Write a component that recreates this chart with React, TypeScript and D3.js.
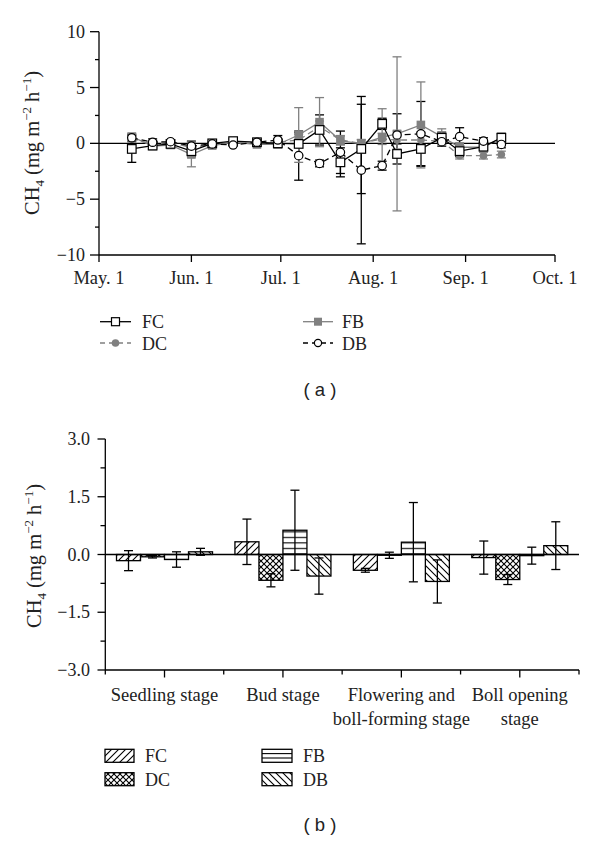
import React from 'react';
import * as d3 from 'd3';

// ---------- Panel (a) data ----------
const sampleDates = ['2012-05-12','2012-05-19','2012-05-25','2012-06-01','2012-06-08','2012-06-15','2012-06-23','2012-06-30','2012-07-07','2012-07-14','2012-07-21','2012-07-28','2012-08-04','2012-08-09','2012-08-17','2012-08-24','2012-08-30','2012-09-07','2012-09-13'];
const fcMean = [-0.5,-0.2,-0.05,-0.7,0.0,0.2,0.1,0.0,-0.05,1.2,-1.7,-0.5,1.75,-0.95,-0.5,0.5,-0.7,-0.3,0.5];
const fcErr  = [1.2,0.2,0.1,0.5,0.2,0.2,0.1,0.3,1.0,1.35,1.3,4.0,0.5,0.9,1.5,0.5,0.5,0.3,0.4];
const dcMean = [0.4,-0.1,0.1,-0.4,-0.1,0.0,0.0,0.1,0.3,1.5,0.3,0.0,0.4,0.3,0.3,0.2,-1.1,-1.1,-1.0];
const dcErr  = [0.3,0.2,0.1,0.5,0.2,0.1,0.1,0.2,0.5,0.5,0.4,0.3,0.5,0.8,0.6,0.3,0.3,0.3,0.3];
const fbMean = [0.6,-0.25,-0.15,-1.0,-0.2,0.1,-0.1,-0.1,0.75,1.9,0.25,-0.05,0.55,0.85,1.65,0.6,-0.35,-0.35,0.5];
const fbErr  = [0.3,0.2,0.1,1.1,0.2,0.2,0.1,0.3,2.45,2.2,0.4,0.4,2.55,6.9,3.85,0.7,0.4,0.3,0.3];
const dbMean = [0.5,0.1,0.15,-0.25,-0.05,-0.15,0.1,0.3,-1.1,-1.8,-0.8,-2.4,-2.0,0.75,0.85,0.15,0.6,0.2,-0.1];
const dbErr  = [0.3,0.3,0.1,0.45,0.1,0.1,0.2,0.4,2.2,0.3,1.9,6.6,0.4,1.9,2.9,0.4,0.8,0.3,0.3];
const monthLabels = ['May. 1','Jun. 1','Jul. 1','Aug. 1','Sep. 1','Oct. 1'];
const yTicksA = [-10,-7.5,-5,-2.5,0,2.5,5,7.5,10];

// ---------- Panel (b) data ----------
const stages = ['Seedling','Bud','Flowering','Boll'];
const stageLabels = [['Seedling stage'],['Bud stage'],['Flowering and','boll-forming stage'],['Boll opening','stage']];
const seriesNames = ['FC','DC','FB','DB'];
const fcBar = [-0.16,0.33,-0.41,-0.08];
const fcBarErr = [0.26,0.59,0.05,0.43];
const dcBar = [-0.06,-0.67,-0.02,-0.65];
const dcBarErr = [0.03,0.17,0.08,0.13];
const fbBar = [-0.13,0.63,0.32,-0.03];
const fbBarErr = [0.2,1.04,1.03,0.22];
const dbBar = [0.07,-0.56,-0.70,0.23];
const dbBarErr = [0.09,0.47,0.56,0.62];
const yTicksB = [-3,-2.25,-1.5,-0.75,0,0.75,1.5,2.25,3];
const yTickLabelsB = ['−3.0','','−1.5','','0.0','','1.5','','3.0'];

const SERIF = '"Liberation Serif", "Times New Roman", serif';
const SANS = '"Liberation Sans", Arial, sans-serif';
const GRAY = '#808080';

function fmtA(v: number) {
  if (v % 5 !== 0) return '';
  return v < 0 ? '−' + Math.abs(v) : String(v);
}

function YLabel({ cx, cy }: { cx: number; cy: number }) {
  return (
    <text transform={`translate(${cx},${cy}) rotate(-90)`} textAnchor="middle" fontFamily={SERIF} fontSize={20.5} fill="#222">
      CH<tspan dy={4.5} fontSize={13}>4</tspan>
      <tspan dy={-4.5}> (mg m</tspan>
      <tspan dy={-8} fontSize={13}>−2</tspan>
      <tspan dy={8}> h</tspan>
      <tspan dy={-8} fontSize={13}>−1</tspan>
      <tspan dy={8}>)</tspan>
    </text>
  );
}

export default function App() {
  const parse = d3.utcParse('%Y-%m-%d');
  const dts = sampleDates.map((s) => parse(s) as Date);
  const start = new Date(Date.UTC(2012, 4, 1));
  const end = new Date(Date.UTC(2012, 9, 1));
  const x = d3.scaleUtc().domain([start, end]).range([99, 555]);
  const y = d3.scaleLinear().domain([-10, 10]).range([255, 31.7]);
  const months = d3.utcMonth.range(start, new Date(Date.UTC(2012, 9, 2)));

  const line = (vals: number[]) =>
    d3.line<number>().x((_, i) => x(dts[i])).y((d) => y(d))(vals) || '';

  const errBars = (mean: number[], err: number[], color: string, key: string) =>
    mean.map((m, i) => {
      const cx = x(dts[i]);
      const y1 = y(m + err[i]);
      const y2 = y(m - err[i]);
      return (
        <g key={key + i} stroke={color} strokeWidth={1.3}>
          <line x1={cx} x2={cx} y1={y1} y2={y2} />
          <line x1={cx - 4.5} x2={cx + 4.5} y1={y1} y2={y1} />
          <line x1={cx - 4.5} x2={cx + 4.5} y1={y2} y2={y2} />
        </g>
      );
    });

  // Panel b scales
  const xb = d3.scaleBand<string>().domain(stages).range([105.3, 579]).padding(0);
  const inner = d3.scaleBand<string>().domain(seriesNames)
    .range([(xb.bandwidth() - 96) / 2, (xb.bandwidth() + 96) / 2]).padding(0);
  const yb = d3.scaleLinear().domain([-3, 3]).range([670, 439]);
  const barSeries = [
    { name: 'FC', vals: fcBar, err: fcBarErr, fill: 'url(#pFC)' },
    { name: 'DC', vals: dcBar, err: dcBarErr, fill: 'url(#pDC)' },
    { name: 'FB', vals: fbBar, err: fbBarErr, fill: 'url(#pFB)' },
    { name: 'DB', vals: dbBar, err: dbBarErr, fill: 'url(#pDB)' },
  ];
  const boundaries = [0, 1, 2, 3, 4].map((i) => 105.3 + i * xb.step());

  return (
    <svg width={600} height={842} style={{ position: 'absolute', left: 0, top: 0, background: '#fff' }}>
      <defs>
        <pattern id="pFC" patternUnits="userSpaceOnUse" width={7} height={7}>
          <rect width={7} height={7} fill="#fff" />
          <path d="M-1,8 L8,-1 M-1,1 L1,-1 M6,8 L8,6" stroke="#000" strokeWidth={1.1} />
        </pattern>
        <pattern id="pDC" patternUnits="userSpaceOnUse" width={6} height={6}>
          <rect width={6} height={6} fill="#fff" />
          <path d="M-1,7 L7,-1 M-1,-1 L7,7" stroke="#000" strokeWidth={1.1} />
        </pattern>
        <pattern id="pFB" patternUnits="userSpaceOnUse" width={6} height={5.5} y={554.5 % 5.5 - 1.2}>
          <rect width={6} height={5.5} fill="#fff" />
          <line x1={0} x2={6} y1={0.6} y2={0.6} stroke="#000" strokeWidth={1.1} />
        </pattern>
        <pattern id="pDB" patternUnits="userSpaceOnUse" width={7} height={7}>
          <rect width={7} height={7} fill="#fff" />
          <path d="M-1,-1 L8,8 M6,-1 L8,1 M-1,6 L1,8" stroke="#000" strokeWidth={1.1} />
        </pattern>
      </defs>

      {/* ================= Panel (a) ================= */}
      <g fontFamily={SERIF} fill="#222">
        <line x1={99} x2={555} y1={y(0)} y2={y(0)} stroke="#000" strokeWidth={1.3} />
        <line x1={99} x2={99} y1={y(10)} y2={y(-10)} stroke="#000" strokeWidth={1.3} />
        {yTicksA.map((t) => (
          <g key={'ya' + t}>
            <line x1={t % 5 === 0 ? 90 : 95} x2={99} y1={y(t)} y2={y(t)} stroke="#000" strokeWidth={1.3} />
            <text x={85} y={y(t) + 6} textAnchor="end" fontSize={18}>{fmtA(t)}</text>
          </g>
        ))}
        <line x1={99} x2={555} y1={255} y2={255} stroke="#000" strokeWidth={1.3} />
        {months.map((m, i) => (
          <g key={'xa' + i}>
            <line x1={x(m)} x2={x(m)} y1={255} y2={262} stroke="#000" strokeWidth={1.3} />
            <text x={x(m)} y={284} textAnchor="middle" fontSize={18.5}>{monthLabels[i]}</text>
          </g>
        ))}
        <YLabel cx={39} cy={143} />

        {errBars(fcMean, fcErr, '#000', 'efc')}
        {errBars(dbMean, dbErr, '#000', 'edb')}
        {errBars(dcMean, dcErr, GRAY, 'edc')}
        {errBars(fbMean, fbErr, GRAY, 'efb')}

        <path d={line(dcMean)} fill="none" stroke={GRAY} strokeWidth={1.3} strokeDasharray="6,4" />
        <path d={line(fbMean)} fill="none" stroke={GRAY} strokeWidth={1.3} />
        <path d={line(fcMean)} fill="none" stroke="#000" strokeWidth={1.3} />
        <path d={line(dbMean)} fill="none" stroke="#000" strokeWidth={1.3} strokeDasharray="6,4" />

        {dcMean.map((v, i) => <circle key={'mdc' + i} cx={x(dts[i])} cy={y(v)} r={3.8} fill={GRAY} />)}
        {fbMean.map((v, i) => <rect key={'mfb' + i} x={x(dts[i]) - 4.3} y={y(v) - 4.3} width={8.6} height={8.6} fill={GRAY} />)}
        {fcMean.map((v, i) => <rect key={'mfc' + i} x={x(dts[i]) - 4.3} y={y(v) - 4.3} width={8.6} height={8.6} fill="#fff" stroke="#000" strokeWidth={1.2} />)}
        {dbMean.map((v, i) => <circle key={'mdb' + i} cx={x(dts[i])} cy={y(v)} r={4.2} fill="#fff" stroke="#000" strokeWidth={1.2} />)}

        {/* legend (a) */}
        <g fontSize={18}>
          <line x1={100} x2={131} y1={321.7} y2={321.7} stroke="#000" strokeWidth={1.3} />
          <rect x={111.5} y={317.7} width={8} height={8} fill="#fff" stroke="#000" strokeWidth={1.2} />
          <text x={142} y={328}>FC</text>
          <line x1={100} x2={131} y1={343} y2={343} stroke={GRAY} strokeWidth={1.3} strokeDasharray="5,4" />
          <circle cx={115.5} cy={343} r={3.8} fill={GRAY} />
          <text x={142} y={349.5}>DC</text>
          <line x1={303} x2={333} y1={321.7} y2={321.7} stroke={GRAY} strokeWidth={1.3} />
          <rect x={314} y={317.7} width={8} height={8} fill={GRAY} />
          <text x={342} y={328}>FB</text>
          <line x1={303} x2={333} y1={343} y2={343} stroke="#000" strokeWidth={1.3} strokeDasharray="5,4" />
          <circle cx={318} cy={343} r={3.6} fill="#fff" stroke="#000" strokeWidth={1.2} />
          <text x={342} y={349.5}>DB</text>
        </g>
        <text x={320} y={396} textAnchor="middle" fontFamily={SANS} fontSize={18.5}>( a )</text>
      </g>

      {/* ================= Panel (b) ================= */}
      <g fontFamily={SERIF} fill="#222">
        {barSeries.map((s) =>
          s.vals.map((v, i) => {
            const bx = (xb(stages[i]) as number) + (inner(s.name) as number);
            const y0 = yb(Math.max(0, v));
            const h = Math.abs(yb(v) - yb(0));
            return (
              <rect key={'bar' + s.name + i} x={bx} y={y0} width={inner.bandwidth()} height={h}
                fill={s.fill} stroke="#000" strokeWidth={1.3} />
            );
          })
        )}
        <line x1={105.3} x2={579} y1={yb(0)} y2={yb(0)} stroke="#000" strokeWidth={1.3} />
        {barSeries.map((s) =>
          s.vals.map((v, i) => {
            const cx = (xb(stages[i]) as number) + (inner(s.name) as number) + inner.bandwidth() / 2;
            const y1 = yb(v + s.err[i]);
            const y2 = yb(v - s.err[i]);
            return (
              <g key={'eb' + s.name + i} stroke="#000" strokeWidth={1.3}>
                <line x1={cx} x2={cx} y1={y1} y2={y2} />
                <line x1={cx - 4.5} x2={cx + 4.5} y1={y1} y2={y1} />
                <line x1={cx - 4.5} x2={cx + 4.5} y1={y2} y2={y2} />
              </g>
            );
          })
        )}
        <line x1={105.3} x2={105.3} y1={yb(3)} y2={yb(-3)} stroke="#000" strokeWidth={1.3} />
        {yTicksB.map((t, i) => (
          <g key={'yb' + i}>
            <line x1={yTickLabelsB[i] ? 97.5 : 100.5} x2={105.3} y1={yb(t)} y2={yb(t)} stroke="#000" strokeWidth={1.3} />
            <text x={90} y={yb(t) + 6} textAnchor="end" fontSize={18}>{yTickLabelsB[i]}</text>
          </g>
        ))}
        <line x1={105.3} x2={579} y1={yb(-3)} y2={yb(-3)} stroke="#000" strokeWidth={1.3} />
        {boundaries.map((bx, i) => (
          <line key={'bt' + i} x1={bx} x2={bx} y1={yb(-3)} y2={yb(-3) + 4.5} stroke="#000" strokeWidth={1.3} />
        ))}
        {stages.map((s, i) => {
          const cx = (xb(s) as number) + xb.bandwidth() / 2;
          return (
            <g key={'xl' + s}>
              <line x1={cx} x2={cx} y1={yb(-3)} y2={yb(-3) + 7.5} stroke="#000" strokeWidth={1.3} />
              {stageLabels[i].map((ln, j) => (
                <text key={j} x={cx} y={701 + j * 24} textAnchor="middle" fontSize={18.5}>{ln}</text>
              ))}
            </g>
          );
        })}
        <YLabel cx={41} cy={556} />

        {/* legend (b) */}
        <g fontSize={18}>
          <rect x={105} y={749.3} width={29} height={13} fill="url(#pFC)" stroke="#000" strokeWidth={1.3} />
          <text x={145} y={762}>FC</text>
          <rect x={105} y={772.7} width={29} height={13} fill="url(#pDC)" stroke="#000" strokeWidth={1.3} />
          <text x={145} y={785.5}>DC</text>
          <rect x={262} y={749.3} width={30} height={13} fill="#fff" stroke="#000" strokeWidth={1.3} />
          <line x1={262} x2={292} y1={753.6} y2={753.6} stroke="#000" strokeWidth={1.1} />
          <line x1={262} x2={292} y1={758} y2={758} stroke="#000" strokeWidth={1.1} />
          <text x={303} y={762}>FB</text>
          <rect x={262} y={772.7} width={30} height={13} fill="url(#pDB)" stroke="#000" strokeWidth={1.3} />
          <text x={303} y={785.5}>DB</text>
        </g>
        <text x={320} y={831} textAnchor="middle" fontFamily={SANS} fontSize={18.5}>( b )</text>
      </g>
    </svg>
  );
}
